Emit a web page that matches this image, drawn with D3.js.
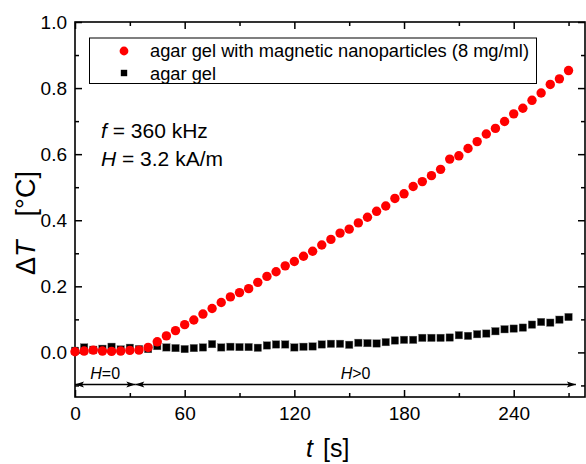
<!DOCTYPE html>
<html>
<head>
<meta charset="utf-8">
<script src="https://cdn.jsdelivr.net/npm/d3@7"></script>
<style>
  body { margin: 0; background: #fff; }
  svg { display: block; font-family: "Liberation Sans", Arial, sans-serif; }
</style>
</head>
<body>
<div id="chart"></div>
<script>
// time in seconds
var times = [0, 5, 10, 15, 20, 25, 30, 35, 40, 45, 50, 55, 60, 65, 70, 75, 80, 85, 90, 95,
  100, 105, 110, 115, 120, 125, 130, 135, 140, 145, 150, 155, 160, 165, 170, 175, 180, 185, 190, 195,
  200, 205, 210, 215, 220, 225, 230, 235, 240, 245, 250, 255, 260, 265, 270]

// agar gel with magnetic nanoparticles
var nanoValues = [0.002, 0.004, 0.007, 0.004, 0.003, 0.004, 0.006, 0.007, 0.015, 0.032,
  0.050, 0.066, 0.084, 0.098, 0.116, 0.133, 0.151, 0.168, 0.181, 0.193,
  0.212, 0.230, 0.244, 0.262, 0.275, 0.291, 0.306, 0.325, 0.342, 0.361,
  0.373, 0.392, 0.409, 0.427, 0.443, 0.466, 0.480, 0.502, 0.517, 0.535,
  0.554, 0.585, 0.595, 0.617, 0.638, 0.661, 0.678, 0.699, 0.722, 0.739,
  0.763, 0.785, 0.811, 0.828, 0.853]

// agar gel only
var gelValues = [0.005, 0.015, 0.008, 0.011, 0.017, 0.009, 0.014, 0.010, 0.010, 0.019,
  0.015, 0.013, 0.010, 0.013, 0.015, 0.025, 0.015, 0.017, 0.016, 0.016,
  0.014, 0.021, 0.024, 0.024, 0.015, 0.017, 0.018, 0.024, 0.026, 0.026,
  0.023, 0.029, 0.028, 0.027, 0.031, 0.036, 0.038, 0.038, 0.044, 0.044,
  0.044, 0.045, 0.052, 0.050, 0.055, 0.057, 0.064, 0.070, 0.072, 0.075,
  0.084, 0.092, 0.090, 0.099, 0.107]

var xMajor = [0, 60, 120, 180, 240]
var xMinor = [30, 90, 150, 210, 270]
var yMajor = [0, 0.2, 0.4, 0.6, 0.8, 1.0]
var yMinor = [-0.1, 0.1, 0.3, 0.5, 0.7, 0.9]

// field on / off intervals
var phases = [
  {from: 0, to: 33, rel: '=0'},
  {from: 33, to: 274, rel: '>0'}
]

var legendLabels = ['agar gel with magnetic nanoparticles (8 mg/ml)', 'agar gel']

var W = 586, H = 464
var mLeft = 75, mRight = 585, mTop = 22, mBottom = 397

var svg = d3.select('#chart').append('svg')
  .attr('width', W)
  .attr('height', H)

var x = d3.scaleLinear().domain([0, 279]).range([mLeft, mRight])
var y = d3.scaleLinear().domain([-0.135, 1.0]).range([mBottom, mTop])

function styleAxis(g) {
  g.select('.domain').remove()
  g.selectAll('line').attr('stroke', '#000').attr('stroke-width', 1.5)
  g.selectAll('text').attr('fill', '#000').style('font-size', '19px')
    .style('font-family', '"Liberation Sans", Arial, sans-serif')
}

// bottom
svg.append('g').attr('transform', `translate(0,${mBottom})`)
  .call(d3.axisBottom(x).tickValues(xMajor).tickSize(-7).tickPadding(10).tickFormat(d3.format('d')))
  .call(styleAxis)
svg.append('g').attr('transform', `translate(0,${mBottom})`)
  .call(d3.axisBottom(x).tickValues(xMinor).tickSize(-4).tickFormat(''))
  .call(styleAxis)
// top
svg.append('g').attr('transform', `translate(0,${mTop})`)
  .call(d3.axisTop(x).tickValues(xMajor).tickSize(-7).tickFormat(''))
  .call(styleAxis)
svg.append('g').attr('transform', `translate(0,${mTop})`)
  .call(d3.axisTop(x).tickValues(xMinor).tickSize(-4).tickFormat(''))
  .call(styleAxis)
// left
svg.append('g').attr('transform', `translate(${mLeft},0)`)
  .call(d3.axisLeft(y).tickValues(yMajor).tickSize(-7).tickPadding(8).tickFormat(d3.format('.1f')))
  .call(styleAxis)
svg.append('g').attr('transform', `translate(${mLeft},0)`)
  .call(d3.axisLeft(y).tickValues(yMinor).tickSize(-4).tickFormat(''))
  .call(styleAxis)
// right
svg.append('g').attr('transform', `translate(${mRight},0)`)
  .call(d3.axisRight(y).tickValues(yMajor).tickSize(-7).tickFormat(''))
  .call(styleAxis)
svg.append('g').attr('transform', `translate(${mRight},0)`)
  .call(d3.axisRight(y).tickValues(yMinor).tickSize(-4).tickFormat(''))
  .call(styleAxis)

// frame
svg.append('rect')
  .attr('x', mLeft).attr('y', mTop)
  .attr('width', mRight - mLeft).attr('height', mBottom - mTop)
  .attr('fill', 'none').attr('stroke', '#000').attr('stroke-width', 1.6)

// data
svg.append('g').selectAll('rect')
  .data(times)
  .enter().append('rect')
  .attr('x', (d) => x(d) - 3.7)
  .attr('y', (d, i) => y(gelValues[i]) - 3.7)
  .attr('width', 7.4).attr('height', 7.4)
  .attr('fill', '#000')
  .attr('stroke', '#666').attr('stroke-width', 0.4)

svg.append('g').selectAll('circle')
  .data(times)
  .enter().append('circle')
  .attr('cx', (d) => x(d))
  .attr('cy', (d, i) => y(nanoValues[i]))
  .attr('r', 4.7)
  .attr('fill', '#ff0000')

// H=0 / H>0 arrows
var arrowY = 384.5
var ph = svg.append('g').selectAll('g').data(phases).enter().append('g')
ph.append('line')
  .attr('x1', (d) => x(d.from)).attr('x2', (d) => x(d.to))
  .attr('y1', arrowY).attr('y2', arrowY)
  .attr('stroke', '#000').attr('stroke-width', 1.6)
ph.append('path')
  .attr('d', (d) => {
    var a = x(d.from), b = x(d.to)
    return `M${a},${arrowY}l9,-3l-2,3l2,3z M${b},${arrowY}l-9,-3l2,3l-2,3z`
  })
  .attr('fill', '#000')
var lab = ph.append('text')
  .attr('x', (d) => x((d.from + d.to) / 2))
  .attr('y', 378.5)
  .attr('text-anchor', 'middle')
  .style('font-size', '16px')
lab.append('tspan').style('font-style', 'italic').text('H')
lab.append('tspan').text((d) => d.rel)

// legend
var lg = svg.append('g')
lg.append('rect')
  .attr('x', 89.5).attr('y', 38)
  .attr('width', 447).attr('height', 45.5)
  .attr('fill', '#fff').attr('stroke', '#000').attr('stroke-width', 1)
lg.append('circle').attr('cx', 124).attr('cy', 51).attr('r', 4.4).attr('fill', '#ff0000')
lg.append('rect').attr('x', 120.8).attr('y', 69.8).attr('width', 6.4).attr('height', 6.4).attr('fill', '#000')
lg.selectAll('text').data(legendLabels).enter().append('text')
  .attr('x', 150)
  .attr('y', (d, i) => 57 + i * 22.5)
  .style('font-size', '18.3px')
  .text((d) => d)

// parameters
var p1 = svg.append('text').attr('x', 101).attr('y', 138).style('font-size', '21px')
p1.append('tspan').style('font-style', 'italic').text('f')
p1.append('tspan').text(' = 360 kHz')
var p2 = svg.append('text').attr('x', 101).attr('y', 166).style('font-size', '21px')
p2.append('tspan').style('font-style', 'italic').text('H')
p2.append('tspan').text(' = 3.2 kA/m')

// axis titles
var xt = svg.append('text').attr('x', 306).attr('y', 457).style('font-size', '25px')
xt.append('tspan').style('font-style', 'italic').text('t')
xt.append('tspan').attr('dx', 10).text('[s]')

var yt = svg.append('text')
  .attr('transform', 'translate(35,223) rotate(-90)')
  .attr('text-anchor', 'middle')
  .style('font-size', '27px')
yt.append('tspan').text('\u0394')
yt.append('tspan').style('font-style', 'italic').text('T')
yt.append('tspan').attr('dx', 24).text('[\u00b0C]')
</script>
</body>
</html>
